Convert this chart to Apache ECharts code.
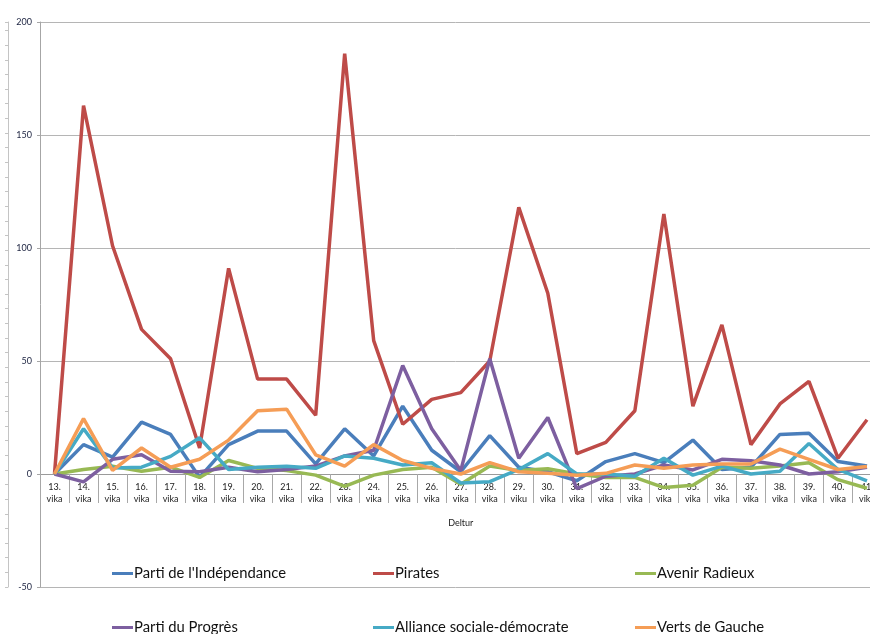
<!DOCTYPE html>
<html>
<head>
<meta charset="utf-8">
<script src="https://cdn.jsdelivr.net/npm/echarts@6/dist/echarts.min.js"></script>
<style>
html,body{margin:0;padding:0;background:#fff;}
#chart{width:870px;height:634px;}
</style>
</head>
<body>
<div id="chart"></div>
<script>
const weeks = ['13.\nvika','14.\nvika','15.\nvika','16.\nvika','17.\nvika','18.\nvika','19.\nvika','20.\nvika','21.\nvika','22.\nvika','23.\nvika','24.\nvika','25.\nvika','26.\nvika','27.\nvika','28.\nvika','29.\nviku','30.\nvika','31.\nvika','32.\nvika','33.\nvika','34.\nvika','35.\nvika','36.\nvika','37.\nvika','38.\nvika','39.\nvika','40.\nvika','41.\nvika'];

const independance = [0,13,7.5,23,17.5,-1.5,13,19,19,4.5,20,8,30,10.5,1,17,3,1,-3,5.5,9,5,15,2,3,17.5,18,5.5,3.5];
const pirates      = [0,163,101,64,51,11.5,91,42,42,26,186,59,22,33,36,50,118,80,9,14,28,115,30,66,13,31,41,7,24];
const avenir       = [0,2,3.4,1.2,3,-1.5,6,2.5,1.5,-0.5,-5.5,-0.5,2,3,-4.5,3.5,1.5,2.3,0,-1.5,-1.5,-6,-5,3,2.5,3.5,5,-2.5,-6.3];
const progres      = [0,-3.5,6.5,8.5,1.2,1,3,1,2,3.5,8,10.5,48,20,1.5,51,7,25,-6.5,-1,0,4,1.8,6.5,5.9,4,0,1,3];
const alliance     = [0,20,2.7,3,7.8,16,2,3,3.4,2.5,8,7,4,5,-4,-3.4,2,9,0,0,-1,7,-0.5,3.5,0,1.2,13.5,2,-3];
const verts        = [0,24.5,1.6,11.5,3,6.5,15,28,28.7,8.5,3.5,13,6,2.5,0,5,1,0.3,-0.5,0.3,4,2.5,4,4.4,4.4,11,6.5,2,3.3];

const seriesNames = ["Parti de l'Indépendance","Pirates","Avenir Radieux","Parti du Progrès","Alliance sociale-démocrate","Verts de Gauche"];
const seriesData = [independance, pirates, avenir, progres, alliance, verts];
const colors = ['#4A7EBB','#BE4B48','#98B954','#7D5FA0','#46AAC5','#F59D56'];

const legendPos = [[112,566],[373,566],[635,566],[112,620],[373,620],[635,620]];

const chart = echarts.init(document.getElementById('chart'), null, {renderer:'canvas'});
chart.setOption({
  animation:false,
  backgroundColor:'#fff',
  color: colors,
  textStyle:{fontFamily:'Lato, "Liberation Sans", sans-serif'},
  grid:{left:40,right:-11.5,top:22,bottom:47,containLabel:false,outerBoundsMode:'none'},
  legend: seriesNames.map((n,i)=>({
    data:[n], left:legendPos[i][0], top:legendPos[i][1], icon:'rect',
    itemWidth:21, itemHeight:3, itemGap:0, padding:0,
    textStyle:{fontSize:14.8, color:'#111', padding:[0,0,0,-4], fontFamily:'Lato, sans-serif'}
  })),
  xAxis:{
    type:'category', data:weeks, boundaryGap:true, offset:-113,
    axisLine:{onZero:false, lineStyle:{color:'#9a9a9a', width:1}},
    axisTick:{show:true, interval:0, length:29, lineStyle:{color:'#a8a8a8'}},
    axisLabel:{interval:0, fontSize:9, lineHeight:12, margin:7, color:'#222'},
    name:'Deltur', nameLocation:'middle', nameGap:45,
    nameTextStyle:{fontSize:9, color:'#222'}
  },
  yAxis:[{
    type:'value', min:-50, max:200, interval:50,
    axisLine:{show:true, lineStyle:{color:'#a6a6a6'}},
    axisTick:{show:true, length:3, lineStyle:{color:'#a6a6a6'}},
    axisLabel:{fontSize:9, color:'#1c2340', margin:8},
    splitLine:{show:true, lineStyle:{color:'#b5b5b5', width:1}}
  },{
    type:'value', position:'left', offset:32, min:-50, max:200, interval:6.48,
    axisLine:{show:true, lineStyle:{color:'#c4c4c4'}},
    axisTick:{show:true, length:3, lineStyle:{color:'#c4c4c4'}},
    axisLabel:{show:false},
    splitLine:{show:false}
  }],
  series: seriesNames.map((n,i)=>({
    name:n, type:'line', data:seriesData[i], yAxisIndex:0,
    symbol:'none', lineStyle:{width:3.5, color:colors[i]},
    itemStyle:{color:colors[i]}
  }))
});
</script>
</body>
</html>
